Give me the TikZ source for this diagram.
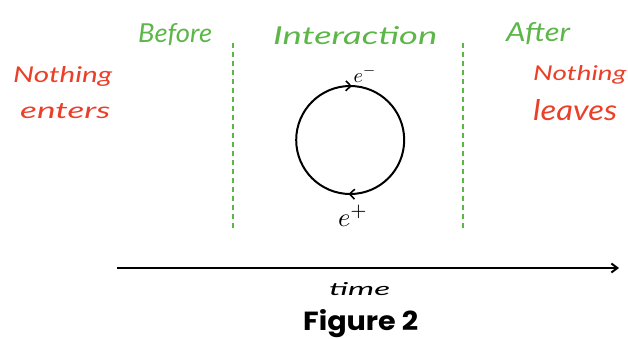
\documentclass[tikz,border=0pt]{standalone}
\usepackage{fontspec}
\setmainfont{Lato}
\newfontfamily\figfont{Poppins}
\usetikzlibrary{decorations.markings,arrows.meta}
\definecolor{hgreen}{RGB}{92,182,72}
\definecolor{hred}{RGB}{234,64,42}
\newcommand{\hwtext}[3]{\resizebox{#1}{#2}{#3}}
\tikzset{
  greenlbl/.style={text=hgreen, font=\itshape, inner sep=0pt, anchor=base west},
  redlbl/.style={text=hred, font=\itshape, inner sep=0pt, anchor=base west},
  divider/.style={hgreen, line width=1.8pt, dash pattern=on 5pt off 4pt},
  loopline/.style={line width=2pt, draw=black},
  axis/.style={line width=2pt, -{Straight Barb[length=6pt,width=9pt]}},
}
\begin{document}
\begin{tikzpicture}[x=1pt,y=-1pt]
\useasboundingbox (0,0) rectangle (628,338);
% section labels
\node[greenlbl] (before) at (138,42) {\hwtext{74pt}{19pt}{Before}};
\node[greenlbl] (inter) at (273,44) {\hwtext{164pt}{18pt}{Interaction}};
\node[greenlbl] (after) at (506,41) {\hwtext{64pt}{19pt}{After}};
% dividers
\coordinate (d1t) at (233,43); \coordinate (d1b) at (233,230);
\coordinate (d2t) at (463,43); \coordinate (d2b) at (463,230);
\draw[divider] (d1t) -- (d1b);
\draw[divider] (d2t) -- (d2b);
% red notes
\node[redlbl] (nothingL) at (13,82) {\hwtext{99pt}{16pt}{Nothing}};
\node[redlbl] (enters) at (20,118) {\hwtext{90pt}{15pt}{enters}};
\node[redlbl] (nothingR) at (533,80) {\hwtext{93pt}{15pt}{Nothing}};
\node[redlbl] (leaves) at (533,120) {\hwtext{84pt}{21pt}{leaves}};
% loop
\node[circle, minimum size=108pt, inner sep=0pt] (loop) at (350,140) {};
\draw[loopline, postaction={decorate}, decoration={markings,
    mark=at position 0.255 with {\arrow{Straight Barb[length=5pt,width=10pt,line width=1.6pt]}},
    mark=at position 0.755 with {\arrow{Straight Barb[length=5pt,width=10pt,line width=1.6pt]}}}]
  (loop.east) arc[start angle=0, end angle=-360, radius=54pt];
\node[inner sep=0pt] (em) at (365,74) {\resizebox{23pt}{!}{$e^{-}$}};
\node[inner sep=0pt] (ep) at (353,216) {\resizebox{30pt}{!}{$e^{+}$}};
% time axis
\coordinate (ts) at (117,268);
\coordinate (te) at (619,268);
\draw[axis] (ts) -- (te);
\node[inner sep=0pt, anchor=base west, font=\itshape] (time) at (329,295) {\hwtext{61pt}{13pt}{time}};
% caption
\node[inner sep=0pt, anchor=base west, font=\figfont\bfseries] (cap) at (303,330) {\hwtext{115pt}{21pt}{Figure 2}};
\end{tikzpicture}
\end{document}
